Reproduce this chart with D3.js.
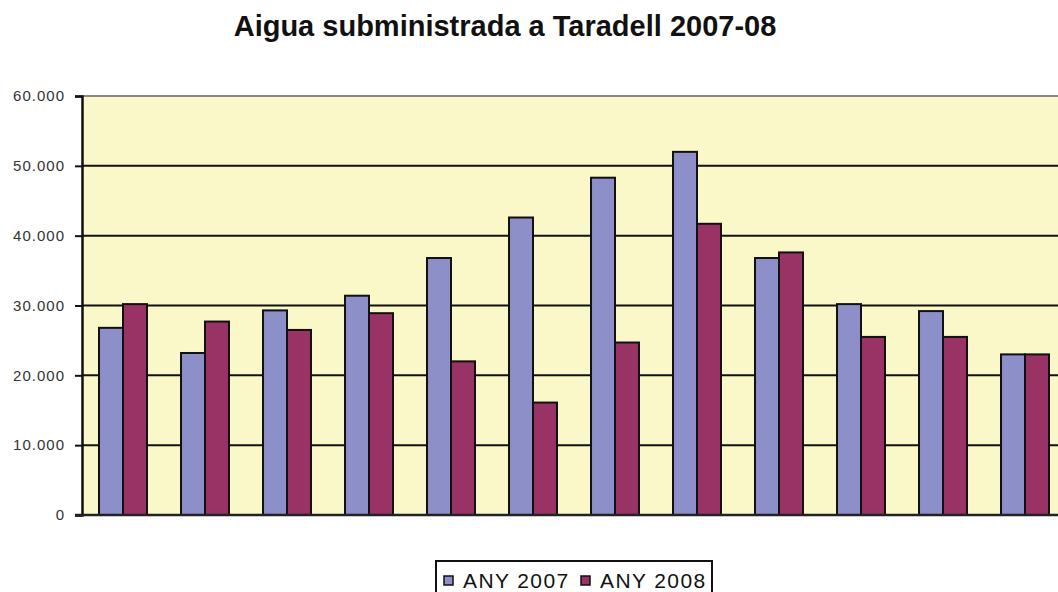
<!DOCTYPE html>
<html>
<head>
<meta charset="utf-8">
<script src="https://d3js.org/d3.v7.min.js"></script>
<style>
    body { margin: 0; background: #fff; }
    svg text { font-family: 'Liberation Sans', Arial, sans-serif; }
    .grid line { stroke: #111; stroke-width: 2; }
    .bar { stroke: #111; stroke-width: 2; }
</style>
</head>
<body>
<svg id="chart" width="1058" height="592"></svg>
<script>
    const months = ["1", "2", "3", "4", "5", "6", "7", "8", "9", "10", "11", "12"];
    const series = ["ANY 2007", "ANY 2008"];
    const any2007 = [26800, 23200, 29300, 31400, 36800, 42600, 48300, 52000, 36800, 30200, 29200, 23000];
    const any2008 = [30200, 27700, 26500, 28900, 22000, 16100, 24700, 41700, 37600, 25500, 25500, 23000];
    const yTicks = [0, 10000, 20000, 30000, 40000, 50000, 60000];
    const colors = ["#8c8fc8", "#993366"];

    const margin = { left: 82, top: 96 };
    const dim = { width: 984, height: 419 };
    const fmt = d => d3.format(",")(d).replace(/,/g, ".");

    const svg = d3.select("#chart");

    svg.append("text")
        .attr("x", 505).attr("y", 36)
        .attr("text-anchor", "middle")
        .style("font-size", "29px").style("font-weight", "bold")
        .style("fill", "#111")
        .text("Aigua subministrada a Taradell 2007-08");

    const x0 = d3.scaleBand().domain(months).range([0, dim.width])
        .paddingInner(0.415).paddingOuter(0.2075);
    const x1 = d3.scaleBand().domain(series).range([0, x0.bandwidth()]);
    const y = d3.scaleLinear().domain([0, 60000]).range([dim.height, 0]);

    const g = svg.append("g").attr("transform", `translate(${margin.left},${margin.top})`);

    g.append("rect")
        .attr("width", dim.width).attr("height", dim.height)
        .attr("fill", "#faf7c8");

    // gridlines behind bars
    g.append("g").attr("class", "grid")
        .selectAll("line")
        .data(yTicks.filter(t => t > 0 && t < 60000))
        .join("line")
        .attr("x1", 0).attr("x2", dim.width)
        .attr("y1", d => y(d)).attr("y2", d => y(d));

    g.append("line")
        .attr("x1", 0).attr("x2", dim.width)
        .attr("y1", y(60000)).attr("y2", y(60000))
        .attr("stroke", "#888").attr("stroke-width", 2);

    const rows = months.map((m, i) => ({ m: m, vals: [any2007[i], any2008[i]] }));
    g.append("g").selectAll("g")
        .data(rows)
        .join("g")
        .attr("transform", d => `translate(${x0(d.m)},0)`)
        .selectAll("rect")
        .data(d => d.vals.map((v, j) => ({ k: series[j], v: v, c: colors[j] })))
        .join("rect")
        .attr("class", "bar")
        .attr("x", d => x1(d.k))
        .attr("width", x1.bandwidth())
        .attr("y", d => y(d.v))
        .attr("height", d => dim.height - y(d.v))
        .attr("fill", d => d.c);

    // y axis
    const yAxis = g.append("g")
        .call(d3.axisLeft(y).tickValues(yTicks).tickFormat(fmt).tickSize(7).tickPadding(10));
    yAxis.select(".domain").attr("stroke", "#111").attr("stroke-width", 2.5);
    yAxis.selectAll(".tick line").attr("stroke", "#111").attr("stroke-width", 2);
    yAxis.selectAll(".tick text")
        .style("font-size", "15px").style("fill", "#333")
        .style("letter-spacing", "1px")
        .style("font-family", "'Liberation Sans', Arial, sans-serif");

    // x baseline
    g.append("line")
        .attr("x1", -7).attr("x2", dim.width)
        .attr("y1", dim.height).attr("y2", dim.height)
        .attr("stroke", "#222").attr("stroke-width", 2.5);

    // legend
    const lg = svg.append("g").attr("transform", "translate(436,561)");
    lg.append("rect")
        .attr("width", 276).attr("height", 40)
        .attr("fill", "#fff").attr("stroke", "#111").attr("stroke-width", 2);
    const items = lg.selectAll("g.item")
        .data(series)
        .join("g")
        .attr("class", "item")
        .attr("transform", (d, i) => `translate(${8 + i * 137},0)`);
    items.append("rect")
        .attr("y", 15).attr("width", 9).attr("height", 9)
        .attr("fill", (d, i) => colors[i])
        .attr("stroke", "#111").attr("stroke-width", 1.5);
    items.append("text")
        .attr("x", 19).attr("y", 27)
        .style("font-size", "21px").style("fill", "#111")
        .style("letter-spacing", "1.4px")
        .text(d => d);
</script>
</body>
</html>
